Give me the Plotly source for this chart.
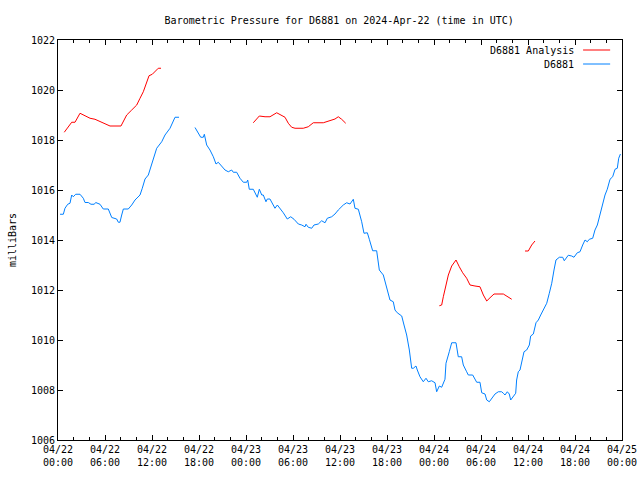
import datetime as dt
import plotly.graph_objects as go

BASE = dt.datetime(2024, 4, 22, 0, 0)

# D6881 observations: hours since 2024-04-22 00:00 UTC (None = gap)
obs_hours = [0.26, 0.68, 0.89, 1.24, 1.53, 1.75, 1.95, 2.26, 2.81, 3.23, 3.45, 3.87, 4.21, 4.63, 4.81,
             5.36, 5.78, 6.42, 6.86, 7.49, 7.70, 7.91, 8.13, 8.34, 8.97, 9.41, 9.83, 10.47, 10.76, 11.11,
             11.53, 11.87, 12.17, 12.60, 13.24, 13.66, 14.30, 14.72, 14.94, 15.45, None,
             17.49, 17.91, 18.22, 18.55, 18.68, 18.98, 19.40, 19.83, 20.17, 20.46, 20.90, 21.32, 21.74,
             22.17, 22.38, 22.81, 23.23, 23.66, 24.09, 24.22, 24.42, 24.93, 25.44, 25.70, 26.01, 26.21,
             26.55, 26.72, 27.06, 27.41, 27.70, 28.00, 28.34, 28.76, 29.27, 29.71, 30.13, 30.68, 31.11,
             31.53, 31.66, 31.95, 32.39, 32.68, 33.23, 33.66, 34.09, 34.38, 34.94, 35.36, 35.78, 36.42,
             36.85, 37.28, 37.70, 37.91, 38.34, 38.77, 39.06, 39.49, 39.74, 40.17, 40.68, 41.02, 41.53,
             41.96, 42.38, 42.80, 43.02, 43.31, 43.88, 44.17, 44.51, 44.85, 45.15, 45.36, 45.70, 45.87,
             46.21, 46.63, 46.98, 47.27, 47.70, 48.13, 48.34, 48.68, 48.98, 49.40, 49.53, 49.95, 50.26,
             50.81, 51.10, 51.53, 51.74, 52.17, 52.38, 52.94, 53.23, 53.45, 53.87, 54.09, 54.51, 54.73,
             55.06, 55.36, 55.79, 56.21, 56.64, 56.85, 57.06, 57.36, 57.61, 57.79, 58.13, 58.43, 58.55,
             58.76, 58.98, 59.32, 59.49, 59.83, 60.17, 60.34, 60.68, 61.02, 61.32, 61.62, 61.96, 62.39,
             62.72, 63.03, 63.32, 63.57, 64.00, 64.43, 64.63, 65.14, 65.58, 65.87, 66.29, 66.64, 66.98,
             67.28, 67.57, 67.83, 68.26, 68.55, 68.85, 69.19, 69.53, 69.83, 70.12, 70.47, 70.81, 71.11,
             71.40, 71.58, 71.80]
obs_mb = [1015.03, 1015.03, 1015.27, 1015.43, 1015.47, 1015.80, 1015.73, 1015.83, 1015.83, 1015.67,
          1015.50, 1015.50, 1015.43, 1015.43, 1015.50, 1015.43, 1015.24, 1015.24, 1014.90, 1014.84,
          1014.71, 1014.71, 1015.00, 1015.24, 1015.24, 1015.40, 1015.60, 1015.80, 1016.07, 1016.44,
          1016.60, 1016.93, 1017.20, 1017.67, 1017.93, 1018.20, 1018.47, 1018.73, 1018.91, 1018.91, None,
          1018.50, 1018.27, 1018.11, 1018.11, 1018.23, 1017.80, 1017.60, 1017.33, 1017.04, 1017.11,
          1016.93, 1016.80, 1016.73, 1016.80, 1016.71, 1016.71, 1016.47, 1016.31, 1016.31, 1016.40,
          1016.03, 1016.03, 1015.71, 1016.03, 1015.80, 1015.80, 1015.53, 1015.64, 1015.64, 1015.40,
          1015.27, 1015.40, 1015.27, 1015.09, 1014.84, 1014.93, 1014.83, 1014.64, 1014.60, 1014.53,
          1014.63, 1014.51, 1014.47, 1014.60, 1014.64, 1014.77, 1014.69, 1014.87, 1014.93, 1015.04,
          1015.20, 1015.40, 1015.49, 1015.44, 1015.63, 1015.27, 1015.23, 1014.73, 1014.27, 1014.29,
          1014.03, 1013.57, 1013.57, 1012.80, 1012.60, 1012.07, 1011.60, 1011.53, 1011.20, 1011.09,
          1010.96, 1010.60, 1010.20, 1009.60, 1008.87, 1008.87, 1008.96, 1008.80, 1008.53, 1008.33,
          1008.47, 1008.33, 1008.37, 1008.29, 1007.93, 1008.16, 1008.11, 1008.43, 1009.07, 1009.53,
          1009.89, 1009.89, 1009.33, 1009.33, 1009.00, 1008.73, 1008.60, 1008.60, 1008.40, 1008.31,
          1008.31, 1007.89, 1007.84, 1007.60, 1007.53, 1007.67, 1007.84, 1007.93, 1007.93, 1007.87,
          1007.80, 1007.93, 1007.84, 1007.60, 1007.77, 1007.87, 1008.40, 1008.73, 1008.80, 1009.33,
          1009.53, 1009.60, 1009.80, 1010.16, 1010.24, 1010.69, 1010.80, 1011.00, 1011.20, 1011.47,
          1011.87, 1012.27, 1012.80, 1013.20, 1013.31, 1013.31, 1013.17, 1013.39, 1013.36, 1013.31,
          1013.49, 1013.53, 1013.80, 1014.00, 1013.93, 1014.03, 1014.07, 1014.40, 1014.60, 1015.00,
          1015.47, 1015.80, 1016.03, 1016.43, 1016.53, 1016.83, 1016.87, 1017.27, 1017.44]

# D6881 Analysis
ana_hours = [0.80, 1.31, 1.75, 2.17, 2.81, 3.45, 4.09, 4.72, 5.36, 6.00, 6.64, 8.04, 8.34, 8.77, 9.41,
             10.05, 10.47, 10.89, 11.20, 11.62, 12.04, 12.47, 12.80, 13.15, None,
             24.93, 25.70, 26.43, 27.06, 27.92, 28.56, 28.98, 29.40, 29.83, 30.26, 31.31, 31.95, 32.59,
             33.87, 34.72, 35.36, 35.78, 36.21, 36.73, None,
             48.68, 48.98, 49.19, 49.53, 49.83, 50.26, 50.81, 51.23, 51.66, 52.17, 52.60, 53.23, 53.87,
             54.30, 54.73, 55.15, 55.66, 56.85, 57.36, 57.92, None,
             59.62, 60.04, 60.47, 60.89]
ana_mb = [1018.31, 1018.53, 1018.71, 1018.71, 1019.07, 1018.97, 1018.87, 1018.83, 1018.73, 1018.64,
          1018.56, 1018.56, 1018.76, 1019.00, 1019.20, 1019.40, 1019.67, 1019.93, 1020.20, 1020.57,
          1020.63, 1020.76, 1020.87, 1020.87, None,
          1018.69, 1018.96, 1018.93, 1018.93, 1019.09, 1018.97, 1018.91, 1018.67, 1018.51, 1018.47,
          1018.47, 1018.53, 1018.69, 1018.69, 1018.77, 1018.84, 1018.93, 1018.83, 1018.67, None,
          1011.37, 1011.40, 1011.73, 1012.20, 1012.60, 1012.96, 1013.20, 1012.93, 1012.69, 1012.47,
          1012.20, 1012.16, 1012.13, 1011.80, 1011.56, 1011.69, 1011.84, 1011.84, 1011.73, 1011.63, None,
          1013.56, 1013.56, 1013.80, 1013.96]

series_names = ["D6881 Analysis", "D6881"]
series_colors = ["rgb(255,0,0)", "rgb(0,128,255)"]


def to_time(hours):
    return [None if h is None else BASE + dt.timedelta(hours=h) for h in hours]


FONT = "DejaVu Sans Mono"
fig = go.Figure()
fig.add_trace(go.Scatter(x=to_time(ana_hours), y=ana_mb, mode="lines", name=series_names[0],
                         line=dict(color=series_colors[0], width=1), connectgaps=False))
fig.add_trace(go.Scatter(x=to_time(obs_hours), y=obs_mb, mode="lines", name=series_names[1],
                         line=dict(color=series_colors[1], width=1), connectgaps=False))

# gnuplot-style legend (text left of the line sample), top right inside the plot
legend_y = [0.975, 0.94]
for name, color, ly in zip(series_names, series_colors, legend_y):
    fig.add_annotation(xref="paper", yref="paper", x=0.918, y=ly, text=name, showarrow=False,
                       xanchor="right", yanchor="middle", font=dict(family=FONT, size=10, color="black"))
    fig.add_shape(type="line", xref="paper", yref="paper", x0=0.931, x1=0.979, y0=ly, y1=ly,
                  line=dict(color=color, width=1))

fig.update_layout(
    width=640, height=480,
    margin=dict(l=58, r=18, t=40, b=40, autoexpand=False),
    paper_bgcolor="white", plot_bgcolor="white",
    showlegend=False,
    font=dict(family=FONT, size=10, color="black"),
    title=dict(text="Barometric Pressure for D6881 on 2024-Apr-22 (time in UTC)",
               x=0.53, xanchor="center", y=0.958, yanchor="middle",
               font=dict(family=FONT, size=10, color="black")),
)
fig.update_xaxes(
    type="date", range=[BASE, BASE + dt.timedelta(days=3)],
    tickmode="linear", tick0=BASE, dtick=6 * 3600 * 1000, tickformat="%m/%d<br>%H:%M",
    ticks="inside", ticklen=5, tickcolor="black", tickwidth=1,
    minor=dict(dtick=2 * 3600 * 1000, ticks="inside", ticklen=3, tickcolor="black", showgrid=False),
    showline=True, linecolor="black", linewidth=1, mirror="ticks",
    showgrid=False, zeroline=False, tickfont=dict(family=FONT, size=10),
)
fig.update_yaxes(
    range=[1006, 1022], tickmode="linear", tick0=1006, dtick=2,
    ticks="inside", ticklen=5, tickcolor="black", tickwidth=1,
    showline=True, linecolor="black", linewidth=1, mirror="ticks",
    showgrid=False, zeroline=False, tickfont=dict(family=FONT, size=10),
    title=dict(text="milliBars", font=dict(family=FONT, size=10), standoff=12),
)

# remove the browser's default 8px page margin so the 640x480 figure fills the window
fig.write_html("out.html", config={"displayModeBar": False},
               post_script="document.body.style.margin='0';document.body.style.overflow='hidden';")
